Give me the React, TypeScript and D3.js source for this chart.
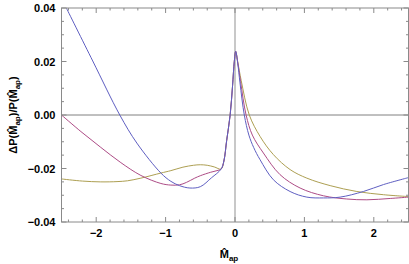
import React from "react";
import * as d3 from "d3";

// shared steep rise to the peak near zero
const riseX = [-0.16, -0.12, -0.07, -0.035, -0.01, 0.01];
const riseY = [-0.0172, -0.0095, 0, 0.011, 0.02, 0.0238];

const blueX = [-2.43, -2.05, -1.66, -1.414, -1.068, -0.924, -0.8, -0.65, -0.5, -0.34, -0.2,
  ...riseX, 0.04, 0.072, 0.134, 0.2, 0.27, 0.361, 0.553, 0.794, 1.035, 1.274, 1.515, 1.85, 2.14, 2.5];
const blueY = [0.04, 0.0202, 0, -0.0105, -0.0217, -0.0248, -0.0264, -0.0273, -0.0268, -0.0235, -0.0202,
  ...riseY, 0.0192, 0.012, 0, -0.0075, -0.0122, -0.0167, -0.0242, -0.0286, -0.0307, -0.031, -0.0307, -0.0286, -0.026, -0.0234];

const magentaX = [-2.5, -2.22, -1.934, -1.645, -1.356, -1.068, -0.924, -0.8, -0.7, -0.58, -0.5, -0.35, -0.26, -0.2,
  ...riseX, 0.04, 0.08, 0.16, 0.25, 0.409, 0.649, 0.938, 1.274, 1.61, 1.9, 2.237, 2.5];
const magentaY = [0, -0.0062, -0.0121, -0.0178, -0.0226, -0.0256, -0.0262, -0.0261, -0.0252, -0.0236, -0.0227, -0.0214, -0.0208, -0.0202,
  ...riseY, 0.0195, 0.0125, 0, -0.0075, -0.0142, -0.0223, -0.0273, -0.0302, -0.0314, -0.0317, -0.0312, -0.0307];

const oliveX = [-2.5, -2.2, -1.934, -1.7, -1.55, -1.356, -1.068, -0.924, -0.75, -0.6, -0.5, -0.4, -0.3, -0.2,
  ...riseX, 0.04, 0.09, 0.206, 0.361, 0.553, 0.794, 1.035, 1.371, 1.756, 2.14, 2.5];
const oliveY = [-0.0239, -0.0247, -0.025, -0.0249, -0.0246, -0.0236, -0.0217, -0.0208, -0.0195, -0.0188, -0.0186, -0.0188, -0.0194, -0.0202,
  ...riseY, 0.0198, 0.0128, 0, -0.008, -0.0148, -0.0204, -0.0236, -0.0264, -0.0286, -0.0298, -0.0305];

const xMajor = [-2, -1, 0, 1, 2];
const xLabels = ["\u22122", "\u22121", "0", "1", "2"];
const yMajor = [-0.04, -0.02, 0, 0.02, 0.04];
const yLabels = ["\u22120.04", "\u22120.02", "0.00", "0.02", "0.04"];

const W = 409, H = 264;
const left = 61.5, right = 408.5, top = 8, bottom = 222;
const font = "'Liberation Sans', Arial, sans-serif";

export default function App() {
  const x = d3.scaleLinear().domain([-2.5, 2.5]).range([left, right]);
  const y = d3.scaleLinear().domain([-0.04, 0.04]).range([bottom, top]);

  const line = d3.line<[number, number]>()
    .x(d => x(d[0]))
    .y(d => y(d[1]))
    .curve(d3.curveCatmullRom.alpha(0.5));

  const series = [
    { xs: oliveX, ys: oliveY, color: "#ad9f52" },
    { xs: magentaX, ys: magentaY, color: "#ad4c86" },
    { xs: blueX, ys: blueY, color: "#5f5fc2" },
  ];

  const xMinor = d3.range(-24, 25, 2).map(v => v / 10).filter(v => !xMajor.some(m => Math.abs(m - v) < 1e-9));
  const yMinor = d3.range(-8, 9).map(v => v * 0.005).filter(v => !yMajor.some(m => Math.abs(m - v) < 1e-9));

  const tickCol = "#8a8a8a";
  const maj = 5, mnr = 2.5;

  return (
    <svg width={W} height={H} style={{ position: "absolute", left: 0, top: 0, background: "#fff" }}>
      <rect x={0} y={0} width={W} height={H} fill="#fff" />
      {/* zero lines */}
      <line x1={x(0)} x2={x(0)} y1={top} y2={bottom} stroke="#c8c8c8" strokeWidth={2} />
      <line x1={left} x2={right} y1={y(0)} y2={y(0)} stroke="#808080" strokeWidth={1} />

      {series.map((s, i) => (
        <path key={i} d={line(s.xs.map((v, j) => [v, s.ys[j]] as [number, number])) || ""}
          fill="none" stroke={s.color} strokeWidth={1} />
      ))}

      {/* frame */}
      <rect x={left} y={top} width={right - left} height={bottom - top} fill="none" stroke={tickCol} strokeWidth={1} />

      {/* ticks */}
      <g stroke={tickCol} strokeWidth={1}>
        {xMajor.map(v => (
          <g key={"xm" + v}>
            <line x1={x(v)} x2={x(v)} y1={bottom} y2={bottom - maj} />
            <line x1={x(v)} x2={x(v)} y1={top} y2={top + maj} />
          </g>
        ))}
        {xMinor.map(v => (
          <g key={"xn" + v}>
            <line x1={x(v)} x2={x(v)} y1={bottom} y2={bottom - mnr} />
            <line x1={x(v)} x2={x(v)} y1={top} y2={top + mnr} />
          </g>
        ))}
        {yMajor.map(v => (
          <g key={"ym" + v}>
            <line x1={left} x2={left + maj} y1={y(v)} y2={y(v)} />
            <line x1={right} x2={right - maj} y1={y(v)} y2={y(v)} />
          </g>
        ))}
        {yMinor.map(v => (
          <g key={"yn" + v}>
            <line x1={left} x2={left + mnr} y1={y(v)} y2={y(v)} />
            <line x1={right} x2={right - mnr} y1={y(v)} y2={y(v)} />
          </g>
        ))}
      </g>

      {/* tick labels */}
      <g fontFamily={font} fontWeight="bold" fontSize={11} fill="#000">
        {xMajor.map((v, i) => (
          <text key={"xl" + v} x={x(v)} y={bottom + 15} textAnchor="middle">{xLabels[i]}</text>
        ))}
        {yMajor.map((v, i) => (
          <text key={"yl" + v} x={left - 6} y={y(v) + 4} textAnchor="end">{yLabels[i]}</text>
        ))}
      </g>

      {/* axis labels */}
      <text x={229} y={258} fontFamily={font} fontWeight="bold" fontSize={11} textAnchor="middle">
        {"M\u0302"}<tspan fontSize={8} dy={3}>ap</tspan>
      </text>
      <text transform={`translate(17,${y(0)}) rotate(-90)`} fontFamily={font} fontWeight="bold" fontSize={11} textAnchor="middle">
        {"\u0394P(M\u0302"}<tspan fontSize={8} dy={3}>ap</tspan><tspan dy={-3}>{")/P(M\u0302"}</tspan><tspan fontSize={8} dy={3}>ap</tspan><tspan dy={-3}>)</tspan>
      </text>
    </svg>
  );
}
